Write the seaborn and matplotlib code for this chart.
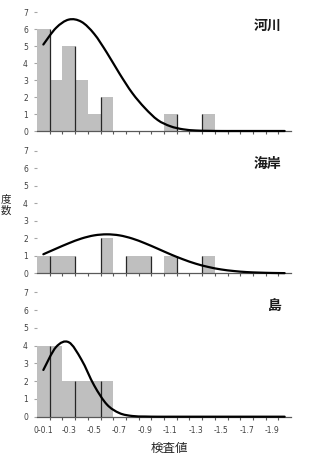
import matplotlib
matplotlib.use("Agg")
import matplotlib.pyplot as plt
import seaborn as sns
import numpy as np
from matplotlib.path import Path
from matplotlib.patches import PathPatch

# bins of the 検査値 (category axis), every other label is shown
bins = ["0-0.1", "-0.2", "-0.3", "-0.4", "-0.5", "-0.6", "-0.7", "-0.8", "-0.9", "-1.0",
        "-1.1", "-1.2", "-1.3", "-1.4", "-1.5", "-1.6", "-1.7", "-1.8", "-1.9", "-2.0"]

# counts per bin
river_counts = [6, 3, 5, 3, 1, 2, 0, 0, 0, 0, 1, 0, 0, 1, 0, 0, 0, 0, 0, 0]
coast_counts = [1, 1, 1, 0, 0, 2, 0, 1, 1, 0, 1, 0, 0, 1, 0, 0, 0, 0, 0, 0]
island_counts = [4, 4, 2, 2, 2, 2, 0, 0, 0, 0, 0, 0, 0, 0, 0, 0, 0, 0, 0, 0]

# fitted curve read at each bin centre
river_curve = [5.10, 6.08, 6.57, 6.44, 5.73, 4.62, 3.38, 2.24, 1.35, 0.65,
               0.28, 0.10, 0.03, 0.01, 0, 0, 0, 0, 0, 0]
coast_curve = [1.09, 1.41, 1.72, 1.99, 2.17, 2.23, 2.17, 1.99, 1.72, 1.41,
               1.09, 0.80, 0.55, 0.36, 0.22, 0.13, 0.07, 0.04, 0.02, 0.01]
island_curve = [2.63, 3.92, 4.19, 3.21, 1.76, 0.69, 0.20, 0.04, 0.01, 0,
                0, 0, 0, 0, 0, 0, 0, 0, 0, 0]

panels = [("河川", river_counts, river_curve),
          ("海岸", coast_counts, coast_curve),
          ("島", island_counts, island_curve)]

W, H = 319, 461
# axes boxes in pixels: left, top, right, bottom
boxes = [(37, 12.3, 291, 131), (37, 151, 291, 273.3), (37, 292.3, 291, 416.7)]

sns.set_style("white")
plt.rcParams['font.family'] = ['Noto Sans CJK JP', 'DejaVu Sans']


def smooth_path(xs, ys):
    # excel style smoothed line (catmull-rom drawn as bezier)
    pts = np.column_stack([xs, ys]).astype(float)
    ext = np.vstack([pts[0], pts, pts[-1]])
    verts = [pts[0]]
    codes = [Path.MOVETO]
    for i in range(len(pts) - 1):
        p0, p1, p2, p3 = ext[i], ext[i + 1], ext[i + 2], ext[i + 3]
        verts += [p1 + (p2 - p0) / 6, p2 - (p3 - p1) / 6, p2]
        codes += [Path.CURVE4] * 3
    return Path(verts, codes)


fig = plt.figure(figsize=(W / 100, H / 100), dpi=100)

for (name, counts, curve), (l, t, r, b) in zip(panels, boxes):
    ax = fig.add_axes([l / W, 1 - b / H, (r - l) / W, (b - t) / H])
    sns.barplot(x=bins, y=counts, color="#bfbfbf", width=1.0, saturation=1,
                edgecolor="none", ax=ax)
    pos = np.arange(len(bins))

    # dark dividers at every other bin edge
    c = np.array(counts)
    edges = pos[:-1:2] + 0.5
    tops = np.maximum(c[:-1:2], c[1::2])
    keep = tops > 0
    ax.vlines(edges[keep], 0, tops[keep], color="#262626", lw=0.9, zorder=3)

    ax.add_patch(PathPatch(smooth_path(pos, curve), fill=False, lw=1.6,
                           edgecolor="black", capstyle="round", zorder=5,
                           clip_on=False))

    ax.set_xlim(-0.5, len(bins) - 0.5)
    ax.set_ylim(0, 7)
    ax.set_yticks(range(8))
    ax.set_yticklabels([str(v) for v in range(8)], fontsize=5.5, color="#404040",
                       family="DejaVu Sans")
    ax.tick_params(axis="y", length=2.5, width=0.8, color="#a6a6a6", pad=4, left=True)

    ax.set_xticks(pos[::2])
    ax.set_xticks(pos[:-1] + 0.5, minor=True)
    ax.tick_params(axis="x", which="major", length=0, pad=7)
    ax.tick_params(axis="x", which="minor", length=2.5, width=0.8, color="#595959",
                   bottom=True)
    if name == "島":
        ax.set_xticklabels(bins[::2], fontsize=5.5, color="#404040",
                           family="DejaVu Sans")
    else:
        ax.set_xticklabels([])
    ax.set_xlabel("")
    ax.set_ylabel("")

    for s in ["top", "right", "left"]:
        ax.spines[s].set_visible(False)
    ax.spines["bottom"].set_color("#595959")
    ax.spines["bottom"].set_linewidth(0.9)
    ax.set_facecolor("none")

    ax.text(0.963, 0.89, name, transform=ax.transAxes, ha="right", va="center",
            fontsize=10, fontweight="bold", color="#1a1a1a")

fig.text(169 / W, 1 - 448 / H, "検査値", ha="center", va="center", fontsize=9,
         color="#262626")
fig.text(1 / W, 1 - 205 / H, "度\n数", ha="left", va="center", fontsize=7.5,
         color="#262626", linespacing=1.15)

fig.savefig("out.png", dpi=100)
